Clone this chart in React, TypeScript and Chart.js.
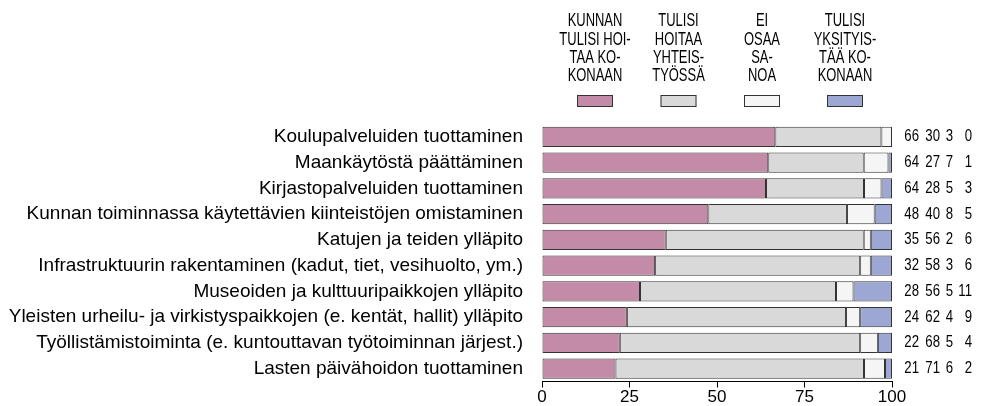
import React, { useEffect, useRef } from "react";
import { Chart, registerables } from "chart.js";

Chart.register(...registerables);

const categories = [
  "Koulupalveluiden tuottaminen",
  "Maankäytöstä päättäminen",
  "Kirjastopalveluiden tuottaminen",
  "Kunnan toiminnassa käytettävien kiinteistöjen omistaminen",
  "Katujen ja teiden ylläpito",
  "Infrastruktuurin rakentaminen (kadut, tiet, vesihuolto, ym.)",
  "Museoiden ja kulttuuripaikkojen ylläpito",
  "Yleisten urheilu- ja virkistyspaikkojen (e. kentät, hallit) ylläpito",
  "Työllistämistoiminta (e. kuntouttavan työtoiminnan järjest.)",
  "Lasten päivähoidon tuottaminen",
];

const kunta = [66, 64, 64, 48, 35, 32, 28, 24, 22, 21];
const yhteis = [30, 27, 28, 40, 56, 58, 56, 62, 68, 71];
const eos = [3, 7, 5, 8, 2, 3, 5, 4, 5, 6];
const yksit = [0, 1, 3, 5, 6, 6, 11, 9, 4, 2];

const seriesLabels = [
  ["KUNNAN", "TULISI HOI-", "TAA KO-", "KONAAN"],
  ["TULISI", "HOITAA", "YHTEIS-", "TYÖSSÄ"],
  ["EI", "OSAA", "SA-", "NOA"],
  ["TULISI", "YKSITYIS-", "TÄÄ KO-", "KONAAN"],
];
const colors = ["#C38BA7", "#D9D9D9", "#F5F5F5", "#9DA7D3"];
const xTicks = [0, 25, 50, 75, 100];

const FONT = "Liberation Sans, Arial, Helvetica, sans-serif";

function narrowText(ctx: any, t: string, x: number, y: number, sx: number) {
  ctx.save();
  ctx.translate(x, y);
  ctx.scale(sx, 1);
  ctx.fillText(t, 0, 0);
  ctx.restore();
}

export default function App() {
  const ref = useRef<HTMLCanvasElement | null>(null);

  useEffect(() => {
    document.body.style.margin = "0";
    const series = [kunta, yhteis, eos, yksit];
    const totals = categories.map((_, i) => series.reduce((s, a) => s + a[i], 0));

    const extras = {
      id: "extras",
      afterDraw(chart: any) {
        const ctx = chart.ctx;
        const ys = chart.scales.y;
        ctx.save();
        // legend
        const legendX = [595, 678.5, 762, 845];
        ctx.font = `18px ${FONT}`;
        ctx.fillStyle = "#000";
        ctx.textAlign = "center";
        ctx.textBaseline = "middle";
        seriesLabels.forEach((lines, k) => {
          lines.forEach((t, j) => narrowText(ctx, t, legendX[k], 21.5 + j * 18.3, 0.72));
          ctx.fillStyle = colors[k];
          ctx.fillRect(legendX[k] - 18, 95, 36, 12);
          ctx.strokeStyle = "#333";
          ctx.lineWidth = 1;
          ctx.strokeRect(legendX[k] - 17.5, 95.5, 35, 11);
          ctx.fillStyle = "#000";
        });
        // right-hand numbers
        const colX = [919, 940, 953, 972];
        ctx.textAlign = "right";
        ctx.font = `16.5px ${FONT}`;
        categories.forEach((_, i) => {
          const y = ys.getPixelForValue(i);
          series.forEach((arr, k) => narrowText(ctx, String(arr[i]), colX[k], y, 0.8));
        });
        ctx.restore();
      },
    };

    const chart = new Chart(ref.current as HTMLCanvasElement, {
      type: "bar",
      data: {
        labels: categories,
        datasets: series.map((arr, k) => ({
          label: seriesLabels[k].join(" "),
          data: arr.map((v, i) => (v / totals[i]) * 100),
          backgroundColor: colors[k],
          borderColor: "#333",
          borderWidth: 1,
          borderSkipped: false,
          barPercentage: 0.78,
          categoryPercentage: 1,
        })),
      },
      options: {
        indexAxis: "y",
        animation: false,
        responsive: true,
        maintainAspectRatio: false,
        layout: { padding: { top: 124, right: 105, bottom: 0, left: 0 } },
        plugins: { legend: { display: false }, tooltip: { enabled: false } },
        scales: {
          x: {
            stacked: true,
            min: 0,
            max: 100,
            afterFit: (s: any) => {
              s.height = 24.5;
            },
            afterBuildTicks: (s: any) => {
              s.ticks = xTicks.map((v) => ({ value: v }));
            },
            grid: {
              display: true,
              drawOnChartArea: false,
              drawTicks: true,
              tickLength: 6,
              color: "#000",
            },
            border: { display: true, color: "#000" },
            ticks: {
              color: "#000",
              font: { family: FONT, size: 17 },
              padding: 0,
              maxRotation: 0,
            },
          },
          y: {
            stacked: true,
            afterFit: (s: any) => {
              s.width = 542;
            },
            grid: { display: false },
            border: { display: false },
            ticks: {
              color: "#000",
              font: { family: FONT, size: 19 },
              padding: 11,
              autoSkip: false,
            },
          },
        },
      },
      plugins: [extras],
    });
    return () => chart.destroy();
  }, []);

  return (
    <div style={{ position: "relative", width: 997, height: 406 }}>
      <canvas ref={ref} />
    </div>
  );
}
